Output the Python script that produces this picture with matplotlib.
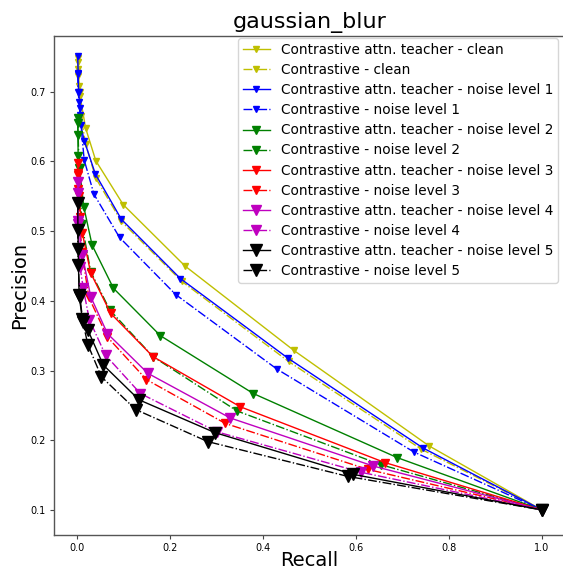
import matplotlib
matplotlib.use("Agg")
import matplotlib.pyplot as plt

# Recall / precision values per curve
clean_teacher_r = [0.001, 0.002, 0.004, 0.006, 0.018, 0.040, 0.099, 0.232, 0.466, 0.757, 1.0]
clean_teacher_p = [0.748, 0.733, 0.708, 0.694, 0.648, 0.601, 0.538, 0.450, 0.329, 0.192, 0.1]
clean_contr_r = [0.001, 0.002, 0.005, 0.008, 0.018, 0.040, 0.095, 0.225, 0.455, 0.741, 1.0]
clean_contr_p = [0.742, 0.722, 0.700, 0.665, 0.625, 0.576, 0.514, 0.428, 0.313, 0.187, 0.1]

n1_teacher_r = [0.001, 0.002, 0.003, 0.006, 0.0075, 0.015, 0.039, 0.095, 0.222, 0.453, 0.744, 1.0]
n1_teacher_p = [0.751, 0.727, 0.699, 0.677, 0.652, 0.630, 0.582, 0.517, 0.432, 0.318, 0.189, 0.1]
n1_contr_r = [0.001, 0.002, 0.004, 0.006, 0.015, 0.036, 0.091, 0.212, 0.430, 0.725, 1.0]
n1_contr_p = [0.725, 0.700, 0.685, 0.667, 0.602, 0.553, 0.491, 0.409, 0.302, 0.183, 0.1]

n2_teacher_r = [0.001, 0.002, 0.005, 0.014, 0.032, 0.078, 0.179, 0.379, 0.689, 1.0]
n2_teacher_p = [0.663, 0.608, 0.590, 0.535, 0.480, 0.418, 0.350, 0.267, 0.175, 0.1]
n2_contr_r = [0.001, 0.002, 0.004, 0.010, 0.029, 0.070, 0.163, 0.344, 0.653, 1.0]
n2_contr_p = [0.655, 0.638, 0.590, 0.510, 0.442, 0.387, 0.320, 0.242, 0.165, 0.1]

n3_teacher_r = [0.001, 0.002, 0.004, 0.011, 0.029, 0.072, 0.163, 0.351, 0.662, 1.0]
n3_teacher_p = [0.598, 0.581, 0.550, 0.497, 0.440, 0.382, 0.320, 0.248, 0.168, 0.1]
n3_contr_r = [0.001, 0.002, 0.005, 0.010, 0.025, 0.065, 0.149, 0.319, 0.626, 1.0]
n3_contr_p = [0.583, 0.560, 0.520, 0.470, 0.405, 0.348, 0.287, 0.224, 0.158, 0.1]

n4_teacher_r = [0.001, 0.002, 0.011, 0.029, 0.065, 0.152, 0.329, 0.637, 1.0]
n4_teacher_p = [0.571, 0.514, 0.466, 0.406, 0.353, 0.296, 0.232, 0.163, 0.1]
n4_contr_r = [0.001, 0.002, 0.006, 0.013, 0.026, 0.061, 0.136, 0.301, 0.611, 1.0]
n4_contr_p = [0.555, 0.510, 0.449, 0.418, 0.373, 0.322, 0.267, 0.212, 0.154, 0.1]

n5_teacher_r = [0.001, 0.002, 0.004, 0.011, 0.023, 0.056, 0.133, 0.296, 0.594, 1.0]
n5_teacher_p = [0.541, 0.475, 0.408, 0.374, 0.358, 0.308, 0.258, 0.211, 0.151, 0.1]
n5_contr_r = [0.001, 0.002, 0.006, 0.012, 0.023, 0.052, 0.126, 0.281, 0.583, 1.0]
n5_contr_p = [0.502, 0.451, 0.405, 0.370, 0.337, 0.291, 0.244, 0.198, 0.148, 0.1]

levels = ["clean", "noise level 1", "noise level 2", "noise level 3", "noise level 4", "noise level 5"]
colors = ["y", "b", "g", "r", "m", "k"]
msizes = [4, 5, 5.5, 6, 7, 8]
teacher = [(clean_teacher_r, clean_teacher_p), (n1_teacher_r, n1_teacher_p), (n2_teacher_r, n2_teacher_p),
           (n3_teacher_r, n3_teacher_p), (n4_teacher_r, n4_teacher_p), (n5_teacher_r, n5_teacher_p)]
contr = [(clean_contr_r, clean_contr_p), (n1_contr_r, n1_contr_p), (n2_contr_r, n2_contr_p),
         (n3_contr_r, n3_contr_p), (n4_contr_r, n4_contr_p), (n5_contr_r, n5_contr_p)]

fig = plt.figure(figsize=(5.63, 5.71), dpi=100)
ax = fig.add_axes([54/563, 36/571, 511/563, 499/571])

for lvl, c, ms, (tr, tp), (cr, cp) in zip(levels, colors, msizes, teacher, contr):
    ax.plot(tr, tp, linestyle="-", color=c, marker="v", markersize=ms, linewidth=1.0,
            label=f"Contrastive attn. teacher - {lvl}")
    ax.plot(cr, cp, linestyle="-.", color=c, marker="v", markersize=ms, linewidth=1.0,
            label=f"Contrastive - {lvl}")

ax.set_xlim(-0.05, 1.05)
ax.set_ylim(0.064, 0.78)
ax.set_xticks([0.0, 0.2, 0.4, 0.6, 0.8, 1.0])
ax.set_yticks([0.1, 0.2, 0.3, 0.4, 0.5, 0.6, 0.7])
ax.tick_params(labelsize=7, length=3, width=0.8, color="#444", pad=3)
for s in ax.spines.values():
    s.set_color("#555")
    s.set_linewidth(1.0)
ax.set_xlabel("Recall", fontsize=14, labelpad=-2)
ax.set_ylabel("Precision", fontsize=14, labelpad=1)
ax.set_title("gaussian_blur", fontsize=16, pad=6)
ax.legend(loc="upper right", fontsize=9.8, labelspacing=0.45, handlelength=2.0,
          bbox_to_anchor=(558/563, 1 - 38/571), bbox_transform=fig.transFigure,
          borderaxespad=0.0, fancybox=True, borderpad=0.35)

fig.savefig("out.png", dpi=100)
